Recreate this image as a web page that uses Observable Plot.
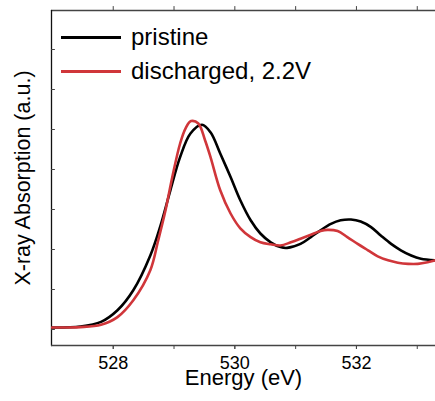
<!DOCTYPE html>
<html>
<head>
<meta charset="utf-8">
<script src="https://cdn.jsdelivr.net/npm/d3@7"></script>
<script src="https://cdn.jsdelivr.net/npm/@observablehq/plot@0.6"></script>
<style>
  html, body { margin: 0; padding: 0; background: #fff; overflow: hidden; }
  #wrap { position: relative; width: 435px; height: 401px; overflow: hidden; font-family: "Liberation Sans", Arial, sans-serif; }
  #legend { position: absolute; left: 61px; top: 20px; font-size: 24px; color: #000; }
  .row { display: flex; align-items: center; height: 34px; }
  .sw { width: 60px; height: 3px; margin-right: 10px; }
</style>
</head>
<body>
<div id="wrap"></div>
<script>
// Series: energy (eV) and absorption (a.u.)
const pristineE = [526.99, 527.46, 527.80, 528.07, 528.33, 528.61, 528.77, 528.94, 529.10, 529.27, 529.46, 529.60, 529.76, 529.93, 530.09, 530.26, 530.42, 530.59, 530.75, 530.86, 531.08, 531.25, 531.41, 531.58, 531.74, 531.91, 532.07, 532.24, 532.40, 532.57, 532.73, 532.90, 533.06, 533.30];
const pristineA = [0.05, 0.075, 0.19, 0.48, 0.98, 1.85, 2.56, 3.48, 4.31, 4.90, 5.12, 4.93, 4.40, 3.81, 3.23, 2.73, 2.40, 2.18, 2.06, 2.04, 2.14, 2.31, 2.48, 2.64, 2.73, 2.75, 2.70, 2.56, 2.35, 2.14, 1.98, 1.85, 1.77, 1.73];
const dischargedE = [526.99, 527.46, 527.80, 528.07, 528.33, 528.61, 528.74, 528.86, 528.97, 529.10, 529.19, 529.28, 529.40, 529.51, 529.60, 529.76, 529.93, 530.09, 530.26, 530.42, 530.59, 530.75, 530.92, 531.08, 531.25, 531.41, 531.52, 531.69, 531.85, 532.02, 532.19, 532.35, 532.52, 532.68, 532.85, 533.01, 533.17, 533.30];
const dischargedA = [0.05, 0.06, 0.12, 0.31, 0.73, 1.48, 2.23, 2.98, 3.80, 4.65, 5.03, 5.21, 5.15, 4.73, 4.31, 3.48, 2.90, 2.53, 2.31, 2.18, 2.13, 2.10, 2.18, 2.27, 2.37, 2.46, 2.49, 2.46, 2.31, 2.14, 1.98, 1.83, 1.73, 1.67, 1.64, 1.64, 1.68, 1.73];
const seriesNames = ["pristine", "discharged, 2.2V"];
const seriesColors = ["#000000", "#d0363a"];
const xTickLabeled = [528, 530, 532];
const xTickAll = [528, 529, 530, 531, 532, 533];
const yTicks = [0, 1, 2, 3, 4, 5, 6, 7];
const xDomain = [526.985, 533.30];
const yDomain = [-0.4, 7.975];

const pristine = pristineE.map((e, i) => ({E: e, A: pristineA[i]}));
const discharged = dischargedE.map((e, i) => ({E: e, A: dischargedA[i]}));
const leftFrame = [{E: xDomain[0], A: yDomain[0]}, {E: xDomain[0], A: yDomain[1]}];
const topFrame = [{E: xDomain[0], A: yDomain[1]}, {E: xDomain[1], A: yDomain[1]}];

const frameColor = "#444";
// tick lengths expressed in data units of each scale (about 3-4 px)
const xTickLen = (yDomain[1] - yDomain[0]) * 4 / 335;
const yTickLen = (xDomain[1] - xDomain[0]) * 3 / 384;
const topTicks = xTickAll.flatMap(v => [[{E: v, A: yDomain[1]}, {E: v, A: yDomain[1] + xTickLen}]]);
const leftTicks = yTicks.map(v => [{E: xDomain[0], A: v}, {E: xDomain[0] + yTickLen, A: v}]);

const chart = Plot.plot({
  width: 435,
  height: 401,
  marginLeft: 51,
  marginRight: 0,
  marginTop: 10,
  marginBottom: 56,
  style: {fontFamily: "'Liberation Sans', Arial, sans-serif", background: "#fff", color: "#000"},
  x: {domain: xDomain},
  y: {domain: yDomain},
  marks: [
    Plot.line(topFrame, {x: "E", y: "A", stroke: frameColor, strokeWidth: 1.3}),
    Plot.line(leftFrame, {x: "E", y: "A", stroke: "#111", strokeWidth: 1.3}),
    ...topTicks.map(t => Plot.line(t, {x: "E", y: "A", stroke: frameColor, strokeWidth: 1})),
    ...leftTicks.map(t => Plot.line(t, {x: "E", y: "A", stroke: frameColor, strokeWidth: 1})),
    Plot.axisX({anchor: "bottom", ticks: xTickAll, tickSize: 4, tickFormat: () => "", label: null, stroke: frameColor}),
    Plot.axisX({anchor: "bottom", ticks: xTickLabeled, tickSize: 4, tickPadding: 7, fontSize: 18, tickFormat: d => String(d), label: null, stroke: frameColor}),
    Plot.axisY({anchor: "left", ticks: [], label: null}),
    Plot.ruleY([yDomain[0]], {stroke: frameColor, strokeWidth: 1.5}),
    Plot.line(pristine, {x: "E", y: "A", stroke: seriesColors[0], strokeWidth: 2.6, curve: "catmull-rom", clip: true}),
    Plot.line(discharged, {x: "E", y: "A", stroke: seriesColors[1], strokeWidth: 2.6, curve: "catmull-rom", clip: true}),
    Plot.text(["Energy (eV)"], {frameAnchor: "bottom", textAnchor: "middle", dy: 39, fontSize: 22, fill: "#000"}),
    Plot.text(["X-ray Absorption (a.u.)"], {frameAnchor: "left", textAnchor: "middle", rotate: -90, dx: -28, fontSize: 21.5, fill: "#000"})
  ]
});

const wrap = document.getElementById("wrap");
wrap.appendChild(chart);

const legend = document.createElement("div");
legend.id = "legend";
seriesNames.forEach((name, i) => {
  const row = document.createElement("div");
  row.className = "row";
  const sw = document.createElement("div");
  sw.className = "sw";
  sw.style.background = seriesColors[i];
  const t = document.createElement("span");
  t.textContent = name;
  row.appendChild(sw);
  row.appendChild(t);
  legend.appendChild(row);
});
wrap.appendChild(legend);
</script>
</body>
</html>
